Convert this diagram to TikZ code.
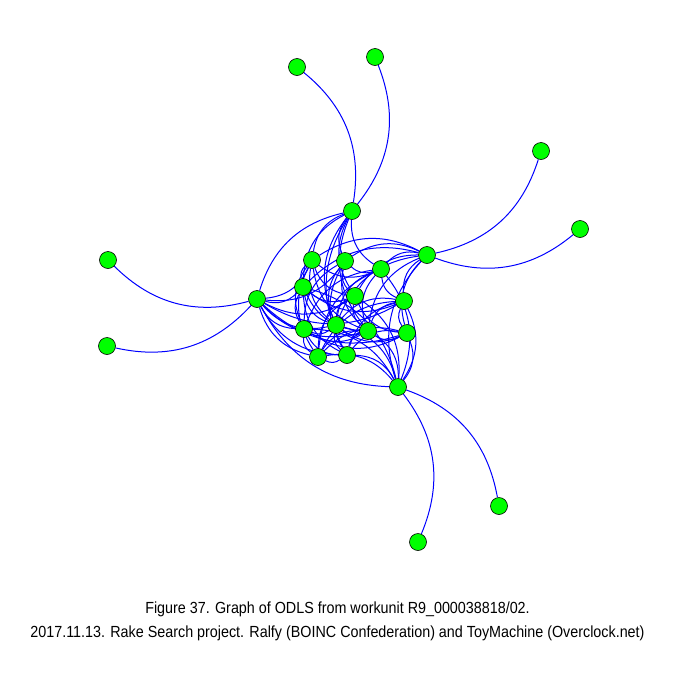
\documentclass[tikz,border=0pt]{standalone}
\usepackage{fontspec}
\newfontfamily\capfont[FakeStretch=0.89]{Liberation Sans}
\usetikzlibrary{positioning}
\pgfdeclarelayer{bg}
\pgfsetlayers{bg,main}
\tikzset{style={font=\capfont\fontsize{16.1}{19}\selectfont}}

\begin{document}
\begin{tikzpicture}[x=1pt,y=-1pt,vtx/.style={circle,draw=black,fill=green,inner
                sep=0pt,minimum size=17pt,line width=0.6pt},lnk/.style={blue,line width=1pt}]
                \useasboundingbox (0,0) rectangle (675,675);
                % hubs
                \node[vtx] (A) at (352,211) {};
                \node[vtx] (B) at (427,255) {};
                \node[vtx] (C) at (257,299) {};
                \node[vtx] (D) at (398,387) {};
                % outer leaves
                \node[vtx] (o1) at (297,67) {};
                \node[vtx] (o2) at (375,57) {};
                \node[vtx] (o3) at (541,151) {};
                \node[vtx] (o4) at (580,229) {};
                \node[vtx] (o5) at (108,260) {};
                \node[vtx] (o6) at (107,346) {};
                \node[vtx] (o7) at (499,506) {};
                \node[vtx] (o8) at (418,542) {};
                % inner cluster
                \node[vtx] (n1) at (312,260) {};
                \node[vtx] (n2) at (345,261) {};
                \node[vtx] (n3) at (381,269) {};
                \node[vtx] (n4) at (303,287) {};
                \node[vtx] (n5) at (355,296) {};
                \node[vtx] (n6) at (404,301) {};
                \node[vtx] (n7) at (304,329) {};
                \node[vtx] (n8) at (336,325) {};
                \node[vtx] (n9) at (368,331) {};
                \node[vtx] (n10) at (407,333) {};
                \node[vtx] (n11) at (318,357) {};
                \node[vtx] (n12) at (347,355) {};
                \begin{pgfonlayer}{bg}
                \foreach \a/\b in {A/o1,A/o2,B/o3,B/o4}
                    \draw[lnk] (\a) to[bend right=30] (\b);
                \foreach \a/\b in {C/o5,C/o6,D/o7,D/o8}
                    \draw[lnk] (\a) to[bend left=30] (\b);
                \foreach \a/\b in {A/C,A/n1,A/n2,A/n4,A/n5,A/n8,A/n9,A/n12,A/n3,
                    B/n1,B/n2,B/n3,B/n5,B/n6,B/n10,B/D,B/n9,B/n8,B/n4,
                    C/n1,C/n4,C/n7,C/n11,C/n2,C/n5,C/n8,C/n9,C/n12,C/n6,C/D,C/n10,
                    D/n11,D/n12,D/n7,D/n9,D/n10,D/n6,D/n8,D/n5,D/n3,D/n4,
                    n1/n4,n1/n7,n1/n11,n1/n5,n1/n9,n1/n3,n1/n8,
                    n2/n5,n2/n8,n2/n12,n2/n9,n2/n3,n2/n7,
                    n3/n6,n3/n9,n3/n7,n3/n8,n3/n11,
                    n4/n7,n4/n8,n4/n5,n4/n9,n4/n6,n4/n12,
                    n5/n8,n5/n9,n5/n11,n5/n10,
                    n6/n10,n6/n9,n6/n8,n6/n11,n6/n12,
                    n7/n8,n7/n11,n7/n12,n7/n9,n7/n10,
                    n8/n9,n8/n12,n8/n10,n9/n10,n9/n12,n9/n11,
                    n10/n12,n10/n11,n11/n12}
                    \draw[lnk] (\a) to[bend right=30] (\b);
                \end{pgfonlayer}
                \node[anchor=base] (cap1) at (337.5,613) {Figure 37. Graph of ODLS from workunit R9\_000038818/02.};
                \node[anchor=base] (cap2) at (337.5,637) {2017.11.13. Rake Search project. Ralfy (BOINC Confederation) and ToyMachine (Overclock.net)};
            \end{tikzpicture}
\end{document}
